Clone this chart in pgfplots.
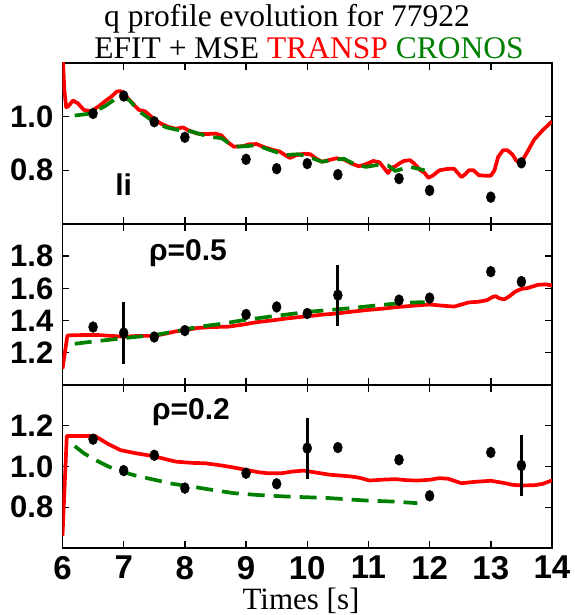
\documentclass[border=0pt]{standalone}
\usepackage{pgfplots}
\pgfplotsset{compat=1.18}
\usepackage{fontspec}
\setmainfont{Liberation Serif}
\newfontfamily\hv{Liberation Sans}
\definecolor{cgreen}{RGB}{0,128,0}

\pgfplotsset{
  panel/.style={
    scale only axis, width=489.5pt,
    xmin=6, xmax=14, xtick={6,...,14}, xticklabels={},
    axis line style={line width=1.8pt},
    tick style={line width=1.4pt, black},
    major tick length=7pt, tick align=inside,
    yticklabel style={font=\hv\bfseries\fontsize{31}{31}\selectfont,
      anchor=east, inner sep=0pt, xshift=-9pt},
    xticklabel style={font=\hv\bfseries\fontsize{33}{33}\selectfont,
      anchor=north, inner sep=0pt, yshift=-8pt},
  },
  transp/.style={red, line width=3.7pt, line join=round, mark=none},
  cronos/.style={cgreen, line width=3.7pt, dash pattern=on 17pt off 9pt, mark=none},
  efit/.style={black, only marks, mark=*, mark size=4.5pt,
    mark options={yscale=1.22, fill=black, draw=black},
    error bars/.cd, y dir=both, y explicit, error mark=none,
    error bar style={line width=3pt, black}},
}
\newcommand{\lab}{\hv\bfseries\fontsize{30}{30}\selectfont}

\begin{document}
\begin{tikzpicture}
\useasboundingbox (-62.5pt,-67pt) rectangle (511.5pt,548pt);

% top panel: li
\begin{axis}[panel, at={(0pt,324pt)}, height=161pt,
  ymin=0.6, ymax=1.2, ytick={0.8,1.0}, yticklabels={0.8,1.0}]
\addplot[transp] coordinates {
(6.0,1.25)(6.03,1.10)(6.06,1.035)(6.1,1.04)(6.17,1.06)(6.25,1.05)(6.35,1.025)(6.47,1.02)
(6.6,1.04)(6.71,1.06)(6.8,1.075)(6.89,1.094)(6.95,1.095)(7.0,1.087)(7.1,1.06)(7.25,1.025)
(7.35,1.02)(7.5,0.99)(7.6,0.975)(7.73,0.962)(7.85,0.955)(7.97,0.96)(8.05,0.95)(8.2,0.937)
(8.35,0.935)(8.5,0.937)(8.6,0.93)(8.7,0.905)(8.8,0.888)(8.95,0.89)(9.05,0.897)(9.17,0.898)
(9.3,0.886)(9.46,0.875)(9.55,0.87)(9.65,0.855)(9.72,0.846)(9.8,0.855)(9.94,0.862)(10.05,0.86)
(10.15,0.843)(10.24,0.832)(10.35,0.838)(10.48,0.845)(10.6,0.84)(10.72,0.826)(10.84,0.815)
(10.95,0.822)(11.08,0.835)(11.18,0.83)(11.25,0.81)(11.32,0.79)(11.38,0.81)(11.44,0.815)
(11.5,0.825)(11.58,0.835)(11.68,0.838)(11.75,0.825)(11.85,0.8)(11.92,0.79)(11.98,0.772)
(12.05,0.78)(12.16,0.8)(12.28,0.805)(12.4,0.806)(12.46,0.79)(12.52,0.775)(12.58,0.785)
(12.64,0.8)(12.72,0.8)(12.8,0.782)(12.9,0.78)(13.0,0.78)(13.06,0.8)(13.12,0.85)(13.2,0.875)
(13.27,0.875)(13.35,0.86)(13.42,0.835)(13.5,0.83)(13.6,0.87)(13.71,0.915)(13.85,0.95)(14.0,0.982)
};
\addplot[cronos] coordinates {
(6.2,1.004)(6.47,1.012)(6.7,1.04)(6.95,1.08)(7.1,1.06)(7.25,1.02)(7.5,0.98)(7.7,0.96)
(7.85,0.952)(8.1,0.945)(8.4,0.925)(8.6,0.92)(8.8,0.888)(9.0,0.89)(9.17,0.894)(9.4,0.875)
(9.64,0.857)(9.85,0.86)(10.0,0.852)(10.24,0.832)(10.45,0.84)(10.6,0.843)(10.8,0.82)
(10.96,0.813)(11.15,0.82)(11.32,0.818)(11.44,0.798)(11.55,0.805)(11.68,0.813)(11.92,0.800)
};
\addplot[efit] coordinates {
(6.5,1.012)(7.0,1.077)(7.5,0.981)(8.0,0.923)(9.0,0.841)(9.5,0.806)(10.0,0.825)
(10.5,0.784)(11.5,0.769)(12.0,0.725)(13.0,0.700)(13.5,0.828)
};
\node[font=\lab] at (axis cs:7.0,0.745) {li};
\end{axis}

% middle panel: rho = 0.5
\begin{axis}[panel, at={(0pt,163pt)}, height=161pt,
  ymin=1.0, ymax=2.0, ytick={1.2,1.4,1.6,1.8}, yticklabels={1.2,1.4,1.6,1.8}]
\addplot[transp] coordinates {
(6.0,1.10)(6.08,1.308)(6.3,1.31)(6.6,1.31)(7.0,1.30)(7.25,1.305)(7.5,1.305)(7.7,1.32)
(7.85,1.333)(8.0,1.34)(8.2,1.354)(8.45,1.36)(8.7,1.362)(8.95,1.375)(9.17,1.39)(9.4,1.40)
(9.64,1.412)(9.82,1.42)(10.0,1.427)(10.25,1.437)(10.48,1.444)(10.72,1.455)(10.96,1.465)
(11.25,1.475)(11.5,1.485)(11.75,1.493)(12.0,1.50)(12.2,1.493)(12.4,1.487)(12.52,1.50)
(12.64,1.513)(12.8,1.517)(12.94,1.527)(13.02,1.545)(13.08,1.552)(13.14,1.538)(13.22,1.532)
(13.3,1.55)(13.4,1.58)(13.5,1.597)(13.6,1.602)(13.77,1.622)(13.9,1.625)(14.0,1.618)
};
\addplot[cronos] coordinates {
(6.2,1.256)(6.5,1.27)(6.77,1.281)(7.1,1.295)(7.5,1.31)(7.85,1.333)(8.2,1.36)(8.6,1.38)
(8.99,1.405)(9.5,1.43)(10.0,1.454)(10.4,1.467)(10.72,1.478)(11.1,1.493)(11.56,1.51)(11.92,1.515)
};
\addplot[efit] coordinates {
(6.5,1.360) +- (0,0)
(7.0,1.323) +- (0,0.19)
(7.5,1.298) +- (0,0)
(8.0,1.338) +- (0,0)
(9.0,1.438) +- (0,0)
(9.5,1.485) +- (0,0)
(10.0,1.444) +- (0,0)
(10.5,1.558) +- (0,0.19)
(11.5,1.527) +- (0,0)
(12.0,1.540) +- (0,0)
(13.0,1.704) +- (0,0)
(13.5,1.642) +- (0,0)
};
\node[font=\lab] at (axis cs:8.05,1.82) {ρ=0.5};
\end{axis}

% bottom panel: rho = 0.2
\begin{axis}[panel, at={(0pt,0pt)}, height=163pt,
  ymin=0.6, ymax=1.4, ytick={0.8,1.0,1.2}, yticklabels={0.8,1.0,1.2},
  xticklabels={6,7,8,9,10,11,12,13,14}]
\addplot[transp] coordinates {
(6.0,0.66)(6.07,1.15)(6.53,1.15)(6.75,1.11)(6.95,1.08)(7.2,1.065)(7.5,1.05)(7.7,1.035)
(7.85,1.024)(8.1,1.018)(8.33,1.016)(8.6,1.005)(8.8,0.995)(8.99,0.984)(9.2,0.972)(9.35,0.967)
(9.58,0.967)(9.75,0.975)(9.94,0.98)(10.15,0.97)(10.36,0.96)(10.72,0.951)(10.85,0.945)
(11.02,0.931)(11.2,0.935)(11.44,0.938)(11.62,0.933)(11.8,0.931)(12.0,0.935)(12.16,0.943)
(12.3,0.94)(12.52,0.918)(12.75,0.925)(13.0,0.93)(13.2,0.92)(13.36,0.91)(13.5,0.907)
(13.71,0.908)(13.85,0.915)(14.0,0.932)
};
\addplot[cronos] coordinates {
(6.2,1.10)(6.35,1.065)(6.53,1.033)(6.75,1.0)(6.95,0.976)(7.2,0.955)(7.5,0.935)(7.8,0.915)
(8.1,0.902)(8.45,0.885)(8.8,0.869)(9.2,0.86)(9.64,0.853)(10.0,0.849)(10.36,0.845)(10.7,0.838)
(10.96,0.833)(11.4,0.828)(11.8,0.82)
};
\addplot[efit] coordinates {
(6.5,1.134) +- (0,0)
(7.0,0.980) +- (0,0)
(7.5,1.055) +- (0,0)
(8.0,0.894) +- (0,0)
(9.0,0.967) +- (0,0)
(9.5,0.915) +- (0,0)
(10.0,1.090) +- (0,0.15)
(10.5,1.093) +- (0,0)
(11.5,1.033) +- (0,0)
(12.0,0.856) +- (0,0)
(13.0,1.069) +- (0,0)
(13.5,1.005) +- (0,0.15)
};
\node[font=\lab] at (axis cs:8.1,1.265) {ρ=0.2};
\end{axis}

\node[anchor=base, inner sep=0pt, font=\fontsize{31.5}{32}\selectfont] at (224.5pt,521pt) {q profile evolution for 77922};
\node[anchor=base, inner sep=0pt, font=\fontsize{31.5}{32}\selectfont] at (246.5pt,489pt) {EFIT + MSE \textcolor{red}{TRANSP} \textcolor{cgreen}{CRONOS}};
\node[anchor=base, inner sep=0pt, font=\fontsize{31}{32}\selectfont] at (238.5pt,-61pt) {Times [s]};
\end{tikzpicture}
\end{document}
